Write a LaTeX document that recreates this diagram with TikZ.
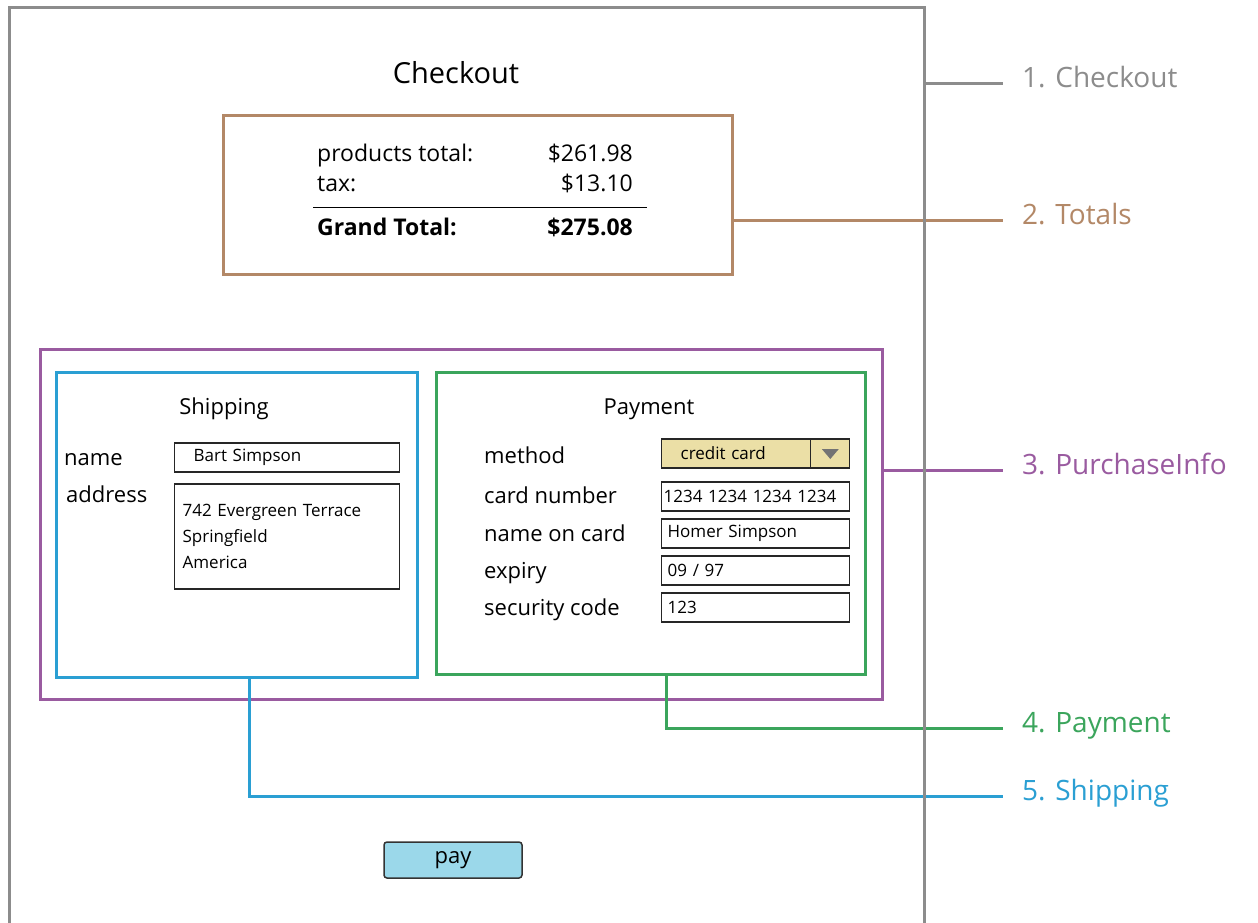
\documentclass[tikz,border=0pt]{standalone}
\usepackage{fontspec}
\setmainfont{Open Sans}
\definecolor{framegray}{HTML}{8C8C8C}
\definecolor{totalbrown}{HTML}{B38867}
\definecolor{purchpurple}{HTML}{9A5BA0}
\definecolor{shipblue}{HTML}{2A9FD3}
\definecolor{paygreen}{HTML}{3BA55C}
\definecolor{dropkhaki}{HTML}{EBDFA6}
\definecolor{buttonblue}{HTML}{9BD8EA}
\newcommand\titlefont{\fontsize{29}{34}\selectfont}
\newcommand\tagfont{\fontsize{28}{34}\selectfont}
\newcommand\lblfont{\fontsize{22}{27}\selectfont}
\newcommand\sumfont{\fontsize{23}{28}\selectfont}
\newcommand\fieldfont{\fontsize{17}{26}\selectfont}

\begin{document}
\begin{tikzpicture}[x=1pt,y=-1pt,
  box/.style={draw,line width=3pt,inner sep=0pt},
  field/.style={draw=black!85,line width=1.3pt,anchor=west,minimum height=29pt,
    inner xsep=6pt,inner ysep=0pt,text width=176pt,align=left,font=\fieldfont},
  lbl/.style={anchor=base west,inner sep=0pt,font=\lblfont},
  sum/.style={anchor=base west,inner sep=0pt,font=\sumfont},
  tag/.style={anchor=west,inner xsep=19pt,inner ysep=0pt,font=\tagfont,
    text height=0.85em,text depth=0.05em},
  link/.style={line width=3pt}]
\useasboundingbox[fill=white] (0,0) rectangle (1258,923);

% --- page frame (only its name here, the lines come last)
\node[inner sep=0pt,minimum width=914pt,minimum height=917pt] (frame) at (467,466.5) {};
\node[anchor=base,inner sep=0pt,font=\titlefont] (title) at (456,84) {Checkout};

% --- totals
\node[box,draw=totalbrown,minimum width=509pt,minimum height=158pt] (totals) at (477.5,195) {};
\node[sum] at (317,161) {products total:};
\node[sum,anchor=base east] at (633,161) {\$261.98};
\node[sum] at (317,191) {tax:};
\node[sum,anchor=base east] at (633,191) {\$13.10};
\draw[line width=1pt] (313,207) -- (647,207);
\node[sum,font=\sumfont\bfseries] at (317,235) {Grand Total:};
\node[sum,font=\sumfont\bfseries,anchor=base east] at (633,235) {\$275.08};

% --- purchase info with shipping and payment inside
\node[box,draw=purchpurple,minimum width=842pt,minimum height=350pt] (purch) at (461,524) {};
\node[box,draw=shipblue,minimum width=361pt,minimum height=305pt] (shipbox) at (236.5,524.5) {};
\node[box,draw=paygreen,minimum width=429pt,minimum height=302pt] (paybox) at (650.5,523) {};

% shipping form
\node[lbl,anchor=base] at (224,414) {Shipping};
\node[lbl] at (64,465) {name};
\node[lbl] at (66,502) {address};
\node[field,inner xsep=19pt,text width=187pt] (shipname) at (174,457.5) {Bart Simpson};
\node[field,inner xsep=8pt,text width=209pt,minimum height=105pt] (shipaddr) at (174,536.5)
  {742 Evergreen Terrace\\Springfield\\America};

% payment form
\node[lbl,anchor=base] at (649,414) {Payment};
\node[lbl] at (484,463) {method};
\node[lbl] at (484,503) {card number};
\node[lbl] at (484,541) {name on card};
\node[lbl] at (484,578) {expiry};
\node[lbl] at (484,615) {security code};
\node[field,fill=dropkhaki,inner xsep=19pt,text width=150pt] (method) at (661,453.5) {credit card};
\draw[line width=1.3pt,black!85] ([xshift=-40pt]method.north east) -- ([xshift=-40pt]method.south east);
\fill[black!55] ([xshift=-28.5pt,yshift=4.5pt]method.east) -- ++(17,0) -- ++(-8.5,10) -- cycle;
\node[field,inner xsep=2pt,text width=184pt] (cardno) at (661,496.5) {1234 1234 1234 1234};
\node[field] (cardname) at (661,533.5) {Homer Simpson};
\node[field] (expiry) at (661,570.5) {09 / 97};
\node[field] (seccode) at (661,607.5) {123};

% --- pay button
\node[draw=black!80,line width=1.5pt,fill=buttonblue,rounded corners=3pt,
  minimum width=138pt,minimum height=36pt,inner sep=0pt,font=\lblfont] (paybtn) at (453,860) {pay};

% --- callout tags and their lines
\node[tag,text=framegray] (tagcheckout) at (1003,84) {1. Checkout};
\node[tag,text=totalbrown] (tagtotals) at (1003,220) {2. Totals};
\node[tag,text=purchpurple] (tagpurch) at (1003,470) {3. PurchaseInfo};
\node[tag,text=paygreen] (tagpay) at (1003,728) {4. Payment};
\node[tag,text=shipblue] (tagship) at (1003,796) {5. Shipping};

\draw[link,framegray] (frame.east |- tagcheckout.west) -- (tagcheckout.west);
\draw[link,totalbrown] (totals.east |- tagtotals.west) -- (tagtotals.west);
\draw[link,purchpurple] (purch.east |- tagpurch.west) -- (tagpurch.west);
\draw[link,paygreen] ([xshift=15.5pt]paybox.south) |- (tagpay.west);
\draw[link,shipblue] ([xshift=12.5pt]shipbox.south) |- (tagship.west);

% frame sides go over the lines
\draw[link,framegray] (frame.south west) |- (frame.north east) -- (frame.south east);
\end{tikzpicture}
\end{document}
